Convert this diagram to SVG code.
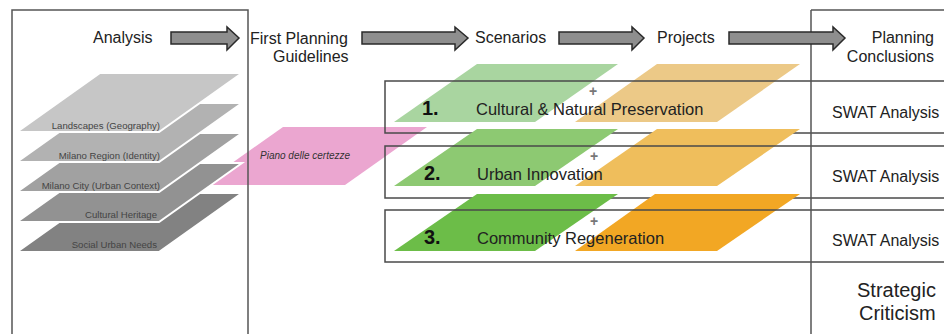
<svg xmlns="http://www.w3.org/2000/svg" width="944" height="334" viewBox="0 0 944 334">
<style>
text{font-family:"Liberation Sans",Arial,sans-serif;fill:#222}
.h{font-size:16px}
.lbl{font-size:16.5px}
.num{font-size:20px;font-weight:bold;fill:#111}
.lay{font-size:9.6px;fill:#444;text-anchor:end}
.box{fill:none;stroke:#555;stroke-width:1.5}
.row{fill:none;stroke:#4a4a4a;stroke-width:1.5}
.arr{fill:#8e8e8e;stroke:#2a2a2a;stroke-width:1.5;stroke-linejoin:miter}
.ly{stroke:#fff;stroke-width:2}
.plus{font-size:14px;font-weight:bold;fill:#777;text-anchor:middle}
.swat{font-size:16px}
</style>
<rect width="944" height="334" fill="#fff"/>

<g id="pink-layer">
<polygon points="283,127 427,127 345,185 201,185" fill="#eba6d0"/>
<text x="260" y="159" style="font-size:10px;font-style:italic;fill:#333">Piano delle certezze</text>
</g>

<g id="analysis">
<rect class="box" x="12" y="10" width="236" height="330"/>
<text class="h" x="93" y="43">Analysis</text>
<g id="layer-social">
<polygon class="ly" points="100,193 242,193 159,252 17,252" fill="#828282"/>
<text class="lay" x="157" y="248">Social Urban Needs</text>
</g>
<g id="layer-heritage">
<polygon class="ly" points="100,163 242,163 159,222 17,222" fill="#929292"/>
<text class="lay" x="157" y="218">Cultural Heritage</text>
</g>
<g id="layer-city">
<polygon class="ly" points="100,133 242,133 159,192 17,192" fill="#a1a1a1"/>
<text class="lay" x="160" y="189">Milano City (Urban Context)</text>
</g>
<g id="layer-region">
<polygon class="ly" points="100,103 242,103 159,162 17,162" fill="#b2b2b2"/>
<text class="lay" x="160" y="159">Milano Region (Identity)</text>
</g>
<g id="layer-landscapes">
<polygon class="ly" points="100,73 242,73 159,132 17,132" fill="#c6c6c6"/>
<text class="lay" x="160" y="129">Landscapes (Geography)</text>
</g>
</g>

<g id="guidelines">
<text class="h" x="250" y="44">First Planning</text>
<text class="h" x="273" y="62">Guidelines</text>
</g>

<g id="scenarios-header"><text class="h" x="475" y="43">Scenarios</text></g>
<g id="projects-header"><text class="h" x="657" y="43">Projects</text></g>

<g id="scenario-1">
<polygon points="477,64 618,64 535,122 394,122" fill="#a9d5a0"/>
<polygon points="657,64 800,64 717,122 575,122" fill="#ecc987"/>
<rect class="row" x="385" y="81" width="570" height="52"/>
<text class="num" x="422" y="115">1.</text>
<text class="lbl" x="476" y="115">Cultural &amp; Natural Preservation</text>
<text class="plus" x="593" y="96">+</text>
</g>
<g id="scenario-2">
<polygon points="477,129 618,129 535,186 394,186" fill="#8dc972"/>
<polygon points="657,129 800,129 717,186 575,186" fill="#efbe5c"/>
<rect class="row" x="385" y="146" width="570" height="52"/>
<text class="num" x="424" y="180">2.</text>
<text class="lbl" x="477" y="180">Urban Innovation</text>
<text class="plus" x="594" y="161">+</text>
</g>
<g id="scenario-3">
<polygon points="477,194 618,194 535,251 394,251" fill="#6cbd48"/>
<polygon points="655,194 800,194 717,251 575,251" fill="#f2a724"/>
<rect class="row" x="385" y="210" width="570" height="52"/>
<text class="num" x="424" y="244">3.</text>
<text class="lbl" x="477" y="244">Community Regeneration</text>
<text class="plus" x="594" y="226">+</text>
</g>

<g id="conclusions">
<line class="box" x1="811" y1="10" x2="811" y2="340"/>
<line class="box" x1="811" y1="10" x2="950" y2="10"/>
<text class="h" x="934" y="43" text-anchor="end">Planning</text>
<text class="h" x="934" y="62" text-anchor="end">Conclusions</text>
<text class="swat" x="832" y="118">SWAT Analysis</text>
<text class="swat" x="832" y="182">SWAT Analysis</text>
<text class="swat" x="832" y="246">SWAT Analysis</text>
<text x="857" y="297" style="font-size:20px">Strategic</text>
<text x="859" y="320" style="font-size:20px">Criticism</text>
</g>

<g id="connectors">
<polygon class="arr" points="171,32 227,32 227,27 239,38 227,50 227,44 171,44"/>
<polygon class="arr" points="362,32 455,32 455,27 468,38 455,50 455,44 362,44"/>
<polygon class="arr" points="559,32 632,32 632,27 644,38 632,50 632,44 559,44"/>
<polygon class="arr" points="729,32 833,32 833,27 845,38 833,50 833,44 729,44"/>
</g>
</svg>
